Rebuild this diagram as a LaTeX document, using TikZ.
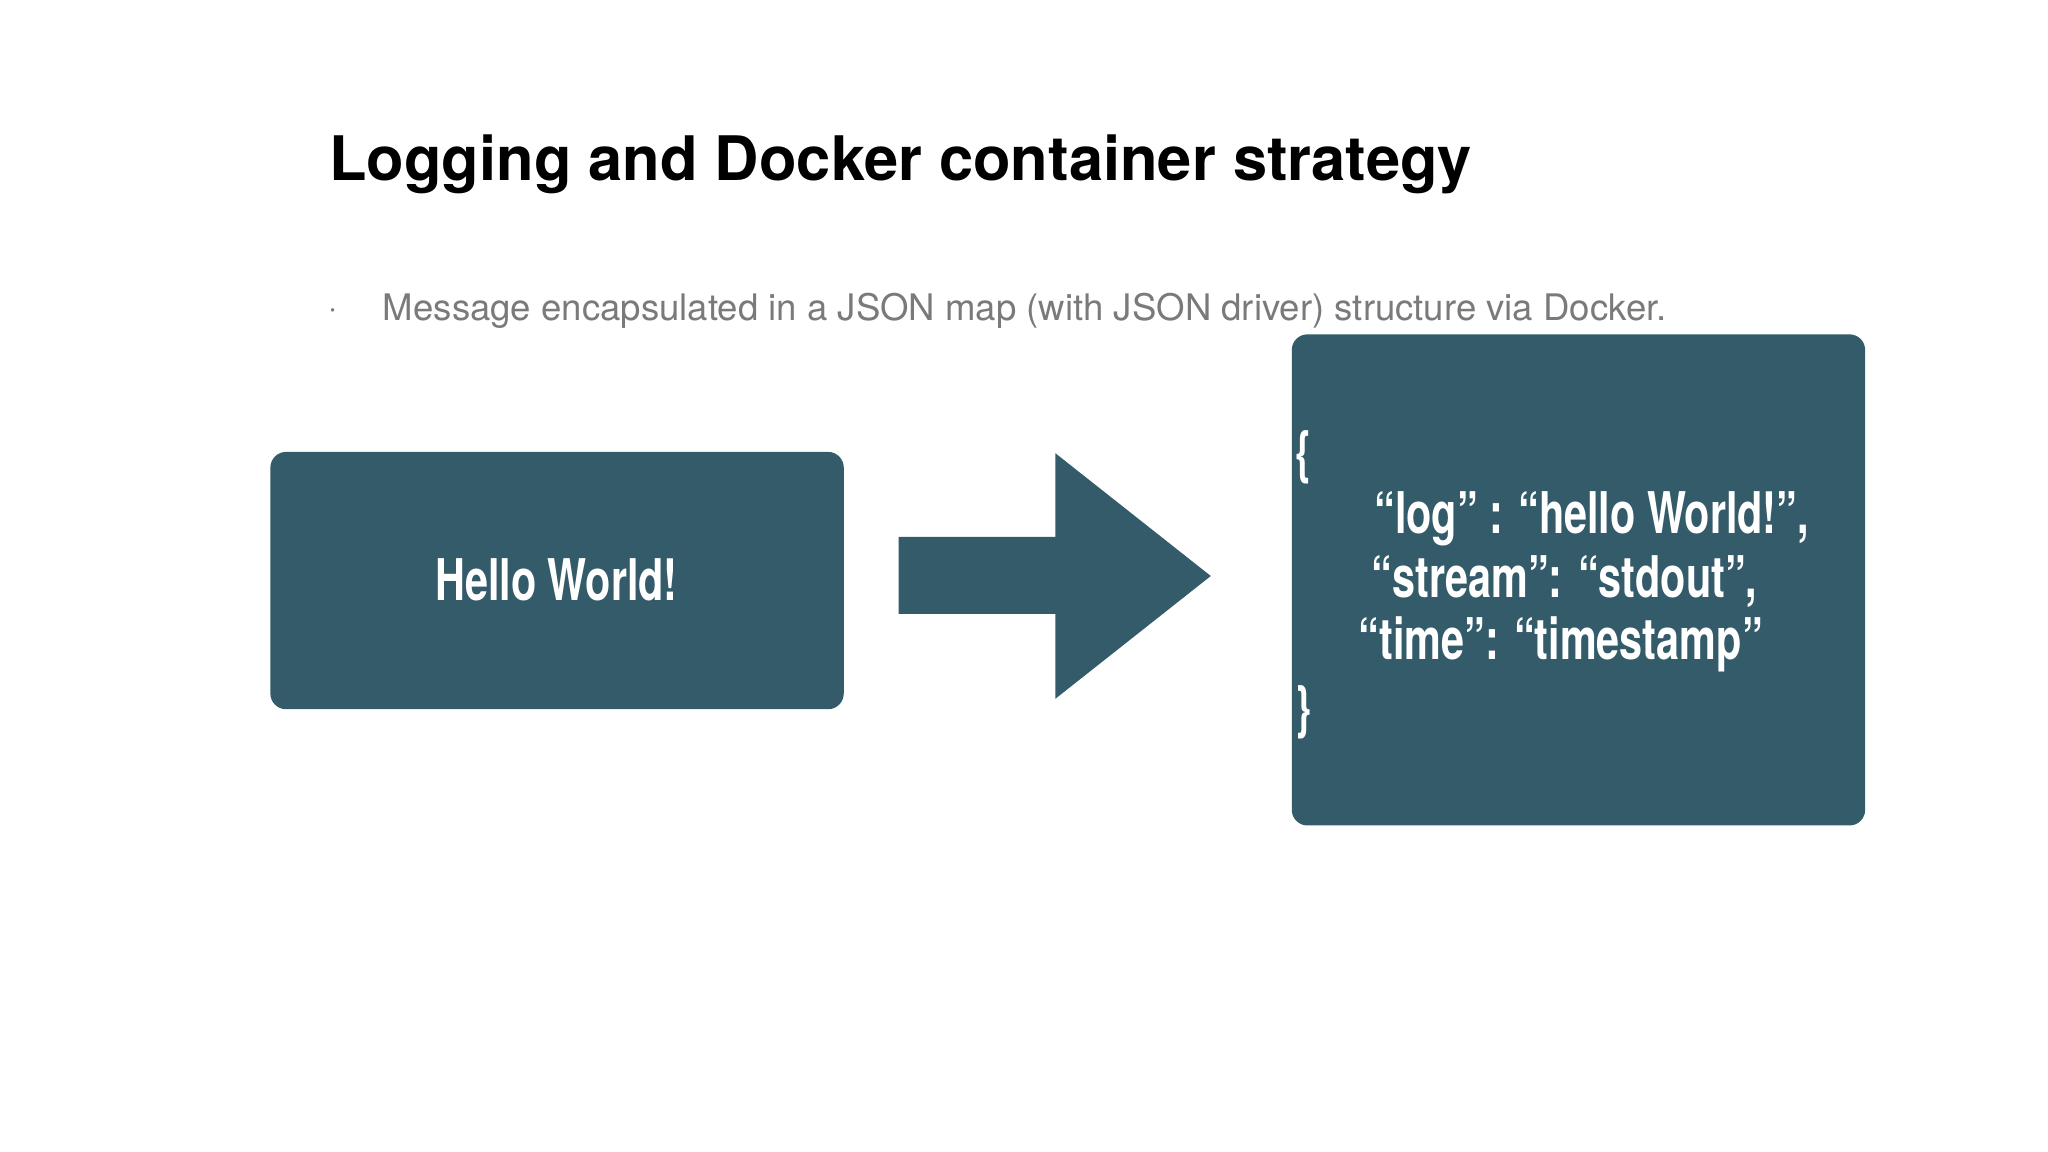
\documentclass[tikz,border=0pt]{standalone}
\usepackage{fontspec}
\setmainfont{TeX Gyre Heros}
\definecolor{box}{HTML}{335B6A}
\definecolor{grey}{HTML}{7A7A7A}
\begin{document}
\begin{tikzpicture}[x=1pt,y=-1pt,
  panel/.style={fill=box,rounded corners=12pt,draw=none},
  jt/.style={text=white,anchor=west,font=\fontsize{44}{50}\selectfont\bfseries,inner sep=0pt}]
\useasboundingbox (0,0) rectangle (1568,882);
\fill[white] (0,0) rectangle (1568,882);
\node[anchor=west,inner sep=0pt,font=\fontsize{47}{56}\selectfont\bfseries] (title) at (252,126) {Logging and Docker container strategy};
\node[anchor=west,inner sep=0pt,text=grey,font=\fontsize{28}{34}\selectfont] (bul) at (251,238) {$\cdot$};
\node[anchor=west,inner sep=0pt,text=grey,font=\fontsize{28}{34}\selectfont] (sub) at (293,238) {Message encapsulated in a JSON map (with JSON driver) structure via Docker.};
\path[panel] (207,346) rectangle (646,543);
\node[jt,anchor=center] (hw) at (426,444) {\scalebox{0.72}[1]{Hello World!}};
\fill[box] (688,411) -- (808,411) -- (808,347) -- (927,441) -- (808,535) -- (808,470) -- (688,470) -- cycle;
\path[panel] (989,256) rectangle (1428,632);
\node[jt] (l1) at (992,350) {\scalebox{0.72}[1]{\{}};
\node[jt] (l2) at (1052,397) {\scalebox{0.72}[1]{“log” : “hello World!”,}};
\node[jt] (l3) at (1050,445) {\scalebox{0.72}[1]{“stream”: “stdout”,}};
\node[jt] (l4) at (1040,493) {\scalebox{0.72}[1]{“time”: “timestamp"}};
\node[jt] (l5) at (992,545) {\scalebox{0.72}[1]{\}}};
\end{tikzpicture}
\end{document}
